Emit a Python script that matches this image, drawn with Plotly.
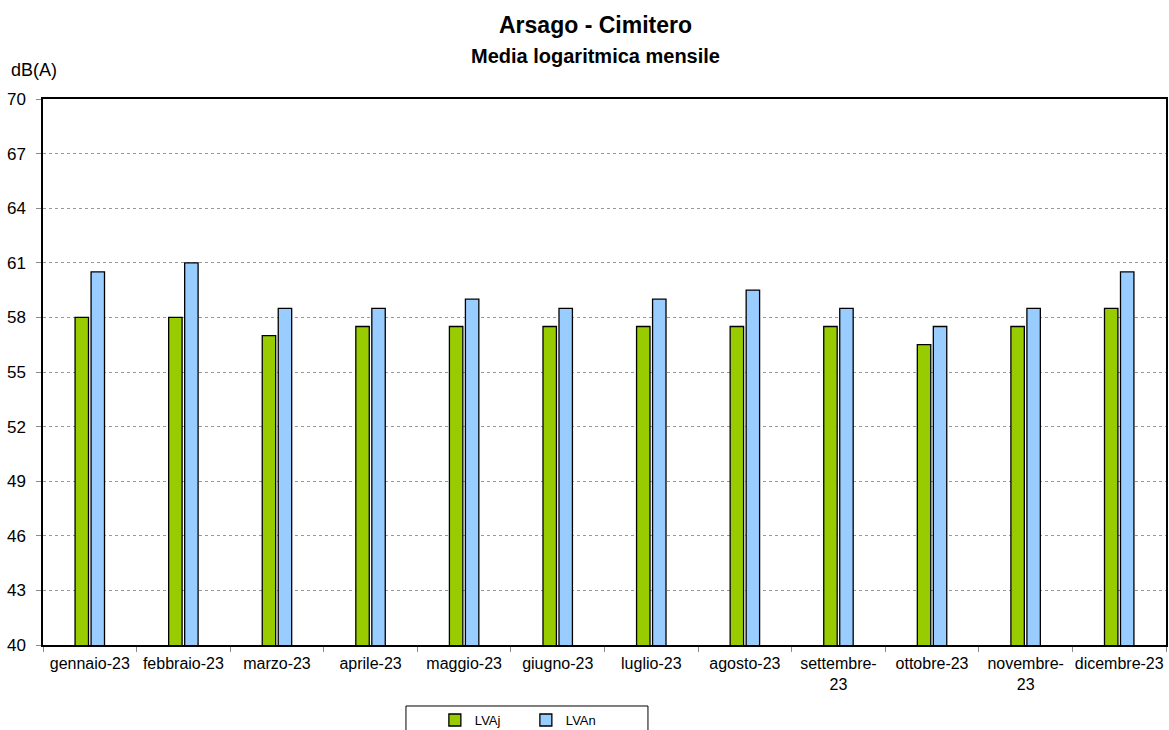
import plotly.graph_objects as go

months = ["gennaio-23", "febbraio-23", "marzo-23", "aprile-23", "maggio-23", "giugno-23",
          "luglio-23", "agosto-23", "settembre-<br>23", "ottobre-23", "novembre-<br>23", "dicembre-23"]
lvaj = [58.0, 58.0, 57.0, 57.5, 57.5, 57.5, 57.5, 57.5, 57.5, 56.5, 57.5, 58.5]
lvan = [60.5, 61.0, 58.5, 58.5, 59.0, 58.5, 59.0, 59.5, 58.5, 57.5, 58.5, 60.5]
yticks = list(range(40, 71, 3))

FONT = "Liberation Sans, Arial, sans-serif"

fig = go.Figure()
fig.add_trace(go.Bar(x=months, y=lvaj, name="LVAj",
                     marker=dict(color="#99CC00", line=dict(color="black", width=1.3))))
fig.add_trace(go.Bar(x=months, y=lvan, name="LVAn",
                     marker=dict(color="#99CCFF", line=dict(color="black", width=1.3))))

fig.update_layout(
    width=1169, height=730,
    margin=dict(l=43, r=3, t=99, b=85, autoexpand=False),
    paper_bgcolor="white", plot_bgcolor="white",
    font=dict(family=FONT, size=16, color="black"),
    barmode="group", bargap=0.658, bargroupgap=0.16,
    showlegend=True,
    legend=dict(orientation="h", xref="container", yref="container",
                x=0.372, xanchor="left", y=0.0342, yanchor="top",
                borderwidth=0, bgcolor="rgba(0,0,0,0)",
                font=dict(size=13, family=FONT), entrywidth=46, itemwidth=30),
)
# legend frame
fig.add_shape(type="rect", xref="paper", yref="paper", x0=0.3232, x1=0.5387, y0=-0.1117, y1=-0.3,
              line=dict(color="black", width=1), fillcolor="rgba(0,0,0,0)")

fig.add_annotation(text="<b>Arsago - Cimitero</b>", xref="paper", yref="paper", x=0.4924, y=1.1355,
                   xanchor="center", yanchor="middle", showarrow=False, font=dict(size=23, family=FONT))
fig.add_annotation(text="<b>Media logaritmica mensile</b>", xref="paper", yref="paper", x=0.4924, y=1.0788,
                   xanchor="center", yanchor="middle", showarrow=False, font=dict(size=20, family=FONT))
fig.add_annotation(text="dB(A)", xref="paper", yref="paper", x=-0.0303, y=1.053,
                   xanchor="left", yanchor="middle", showarrow=False, font=dict(size=18, family=FONT))

fig.update_yaxes(range=[40, 70], tickvals=yticks, showgrid=True, gridcolor="#999999", griddash="dot",
                 gridwidth=1, showline=True, linecolor="black", linewidth=1.5, mirror=True,
                 ticks="outside", ticklen=5, tickcolor="#8a8a8a", tickfont=dict(size=17),
                 zeroline=False, automargin=False, ticklabelstandoff=7)
fig.update_xaxes(showline=True, linecolor="black", linewidth=1.5, mirror=True, tickson="boundaries",
                 ticks="outside", ticklen=5, tickcolor="#8a8a8a", tickfont=dict(size=16), tickangle=0,
                 automargin=False, ticklabelstandoff=3)

fig.write_html("out.html", config={"displayModeBar": False},
               post_script="document.body.style.margin='0';document.body.style.overflow='hidden';")
